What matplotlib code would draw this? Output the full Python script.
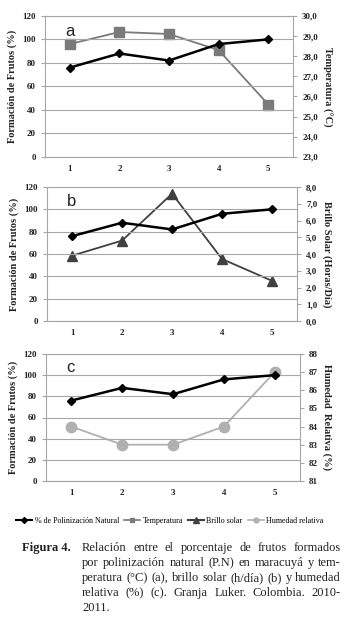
import matplotlib
matplotlib.use("Agg")
import matplotlib.pyplot as plt
from matplotlib.lines import Line2D

plt.rcParams['font.family'] = ['Liberation Serif', 'DejaVu Serif']

meses = [1, 2, 3, 4, 5]
polinizacion = [76, 88, 82, 96, 100]
temperatura = [28.6, 29.2, 29.1, 28.3, 25.6]
brillo = [3.9, 4.8, 7.6, 3.7, 2.4]
humedad = [84, 83, 83, 84, 87]

izq_ticks = [0, 20, 40, 60, 80, 100, 120]
temp_ticks = [23, 24, 25, 26, 27, 28, 29, 30]
brillo_ticks = [0, 1, 2, 3, 4, 5, 6, 7, 8]
hum_ticks = [81, 82, 83, 84, 85, 86, 87, 88]

GRID = '#a6a6a6'
TXT = '#222222'

fig = plt.figure(figsize=(3.54, 6.25), dpi=100)


def panel(rect, letra, serie, ticks, fmt, ylabel, color, marker, ms, lw):
    ax = fig.add_axes(rect)
    ax.set_xlim(0.5, 5.5)
    ax.set_ylim(0, 120)
    ax.set_yticks(izq_ticks)
    ax.set_xticks(meses)
    ax.yaxis.grid(True, color=GRID, lw=0.8)
    ax.set_axisbelow(True)
    for s in ['left', 'bottom', 'right', 'top']:
        ax.spines[s].set_color(GRID)
        ax.spines[s].set_linewidth(0.8)
    ax.tick_params(axis='x', length=0, labelsize=6.5, colors=TXT, pad=6)
    ax.tick_params(axis='y', length=3, color=GRID, labelsize=6.5, colors=TXT)
    for lab in ax.get_xticklabels() + ax.get_yticklabels():
        lab.set_fontweight('bold')
    ax.set_ylabel('Formación de Frutos (%)', fontsize=7.5, fontweight='bold', color=TXT, labelpad=4)
    ax.text(0.08, 0.86, letra, transform=ax.transAxes, fontsize=12,
            family=['Liberation Sans', 'DejaVu Sans'], color=TXT)

    ax2 = ax.twinx()
    ax2.set_ylim(ticks[0], ticks[-1])
    ax2.set_yticks(ticks)
    ax2.set_yticklabels([fmt(t) for t in ticks], fontweight='bold')
    ax2.tick_params(axis='y', length=3, color=GRID, labelsize=6.5, colors=TXT)
    for s in ['left', 'bottom', 'right', 'top']:
        ax2.spines[s].set_visible(False)
    ax2.plot(meses, serie, color=color, marker=marker, ms=ms, lw=lw, zorder=2)
    ax2.set_ylabel(ylabel, fontsize=7.5, fontweight='bold', color=TXT, rotation=270, labelpad=10)

    ax.set_zorder(ax2.get_zorder() + 1)
    ax.patch.set_visible(False)
    ax.plot(meses, polinizacion, color='black', marker='D', ms=4, lw=1.8, zorder=3)
    return ax


panel([0.127, 0.749, 0.701, 0.2256], 'a', temperatura, temp_ticks,
      lambda t: f'{t:.1f}'.replace('.', ','), 'Temperatura (°C)', '#7a7a7a', 's', 6.5, 1.3)
panel([0.133, 0.4864, 0.706, 0.2144], 'b', brillo, brillo_ticks,
      lambda t: f'{t:.1f}'.replace('.', ','), 'Brillo Solar (Horas/Día)', '#404040', '^', 7.5, 1.3)
panel([0.130, 0.2304, 0.7175, 0.2032], 'c', humedad, hum_ticks,
      lambda t: f'{t:d}', 'Humedad  Relativa (%)', '#b0b0b0', 'o', 7.5, 1.3)

handles = [
    Line2D([], [], color='black', marker='D', ms=3, lw=1.5),
    Line2D([], [], color='#7a7a7a', marker='s', ms=3.5, lw=1.2),
    Line2D([], [], color='#404040', marker='^', ms=4, lw=1.5),
    Line2D([], [], color='#b0b0b0', marker='o', ms=3.5, lw=1.2),
]
labels = ['% de Polinización Natural', 'Temperatura', 'Brillo solar', 'Humedad relativa']
fig.legend(handles, labels, loc='center', bbox_to_anchor=(0.48, 1 - 521 / 625), ncol=4,
           frameon=False, fontsize=5.8, handlelength=2.0, handletextpad=0.3,
           columnspacing=0.6, borderaxespad=0)

fig.text(22 / 354, 1 - 548 / 625, 'Figura 4.', fontsize=9, fontweight='bold',
         color=TXT, va='center')
caption = [
    'Relación entre el porcentaje de frutos formados',
    'por polinización natural (P.N) en maracuyá y tem-',
    'peratura (°C) (a), brillo solar (h/día) (b) y humedad',
    'relativa (%) (c). Granja Luker. Colombia. 2010-',
    '2011.',
]

# caption justified between x=82 and x=341 px
renderer = fig.canvas.get_renderer()
x0, x1 = 82, 341
for i, linea in enumerate(caption):
    y = 1 - (548 + 15 * i) / 625
    palabras = linea.split(' ')
    if i == len(caption) - 1:
        fig.text(x0 / 354, y, linea, fontsize=9, color=TXT, va='center')
        continue
    objs = [fig.text(0, y, p, fontsize=9, color=TXT, va='center') for p in palabras]
    anchos = [o.get_window_extent(renderer).width for o in objs]
    hueco = (x1 - x0 - sum(anchos)) / (len(palabras) - 1)
    x = x0
    for o, w in zip(objs, anchos):
        o.set_x(x / 354)
        x += w + hueco

fig.savefig('out.png', dpi=100)
